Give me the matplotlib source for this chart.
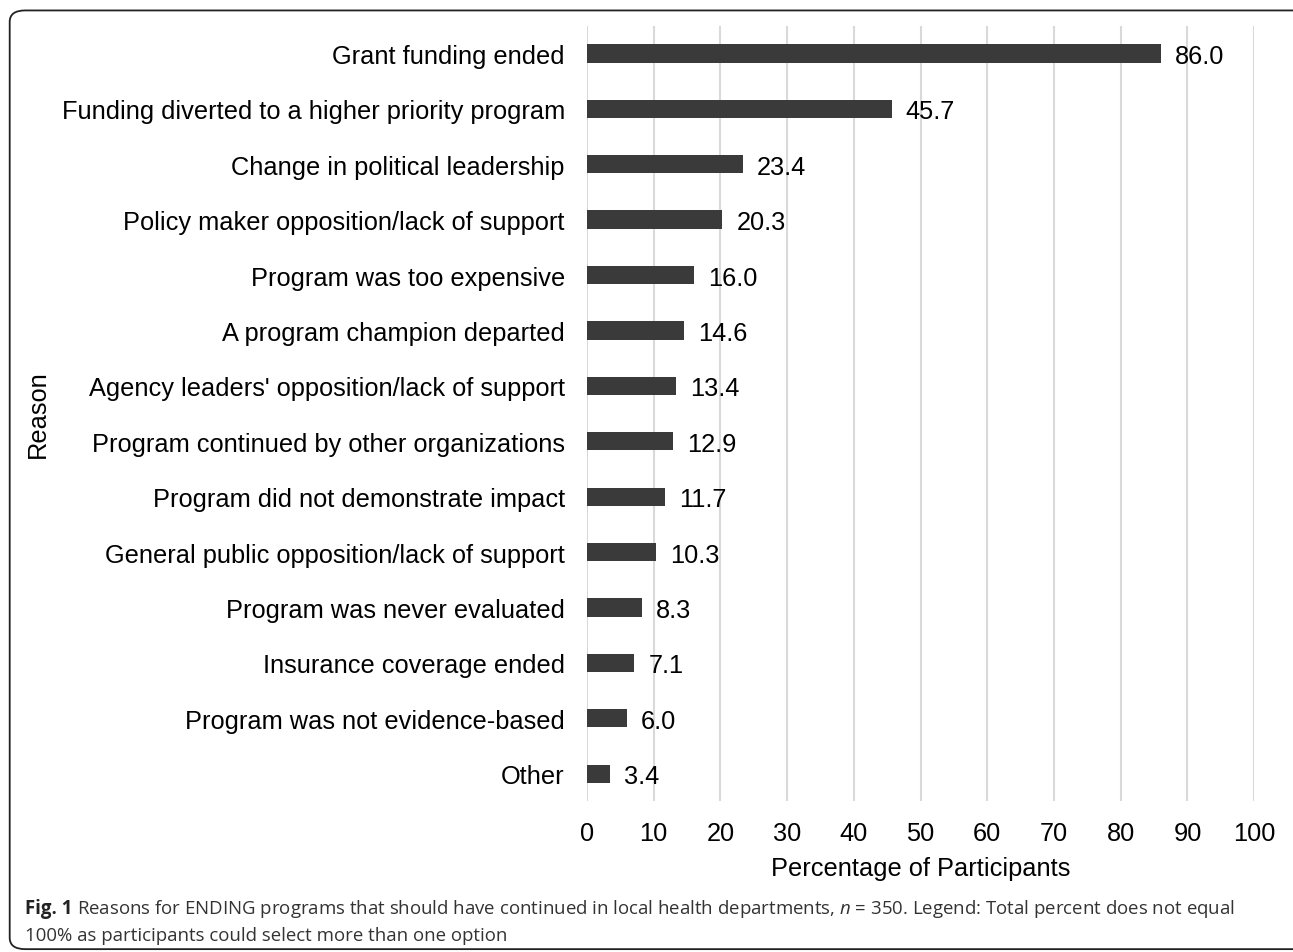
import matplotlib.pyplot as plt
from matplotlib.patches import FancyBboxPatch

# ------------ Data ------------
reasons = ["Grant funding ended",
           "Funding diverted to a higher priority program",
           "Change in political leadership",
           "Policy maker opposition/lack of support",
           "Program was too expensive",
           "A program champion departed",
           "Agency leaders' opposition/lack of support",
           "Program continued by other organizations",
           "Program did not demonstrate impact",
           "General public opposition/lack of support",
           "Program was never evaluated",
           "Insurance coverage ended",
           "Program was not evidence-based",
           "Other"]
percent = [86.0, 45.7, 23.4, 20.3, 16.0, 14.6, 13.4, 12.9, 11.7, 10.3, 8.3, 7.1, 6.0, 3.4]
xticks = list(range(0, 101, 10))

plt.rcParams['font.family'] = ['Liberation Sans', 'DejaVu Sans']
plt.rcParams['mathtext.fontset'] = 'custom'
plt.rcParams['mathtext.it'] = 'Open Sans:italic'

fs = 18.3

fig = plt.figure(figsize=(12.93, 9.53), dpi=100)
ax = fig.add_axes([0.454, 0.158, 0.516, 0.814])

ypos = list(range(len(reasons)))
ax.barh(ypos, percent, height=0.33, color='#3a3a3a', zorder=3)
for y, v in zip(ypos, percent):
    ax.annotate("%.1f" % v, (v, y), xytext=(10, 0), textcoords='offset points',
                va='center_baseline', ha='left', fontsize=fs, color='black', zorder=4)

ax.set_xlim(0, 100)
ax.set_ylim(len(reasons) - 0.5, -0.5)
ax.set_xticks(xticks)
ax.set_yticks(ypos)
ax.set_yticklabels(reasons, fontsize=fs)
ax.tick_params(axis='x', labelsize=fs, length=0, pad=14)
ax.tick_params(axis='y', length=0, pad=16)
for lab in ax.get_yticklabels():
    lab.set_verticalalignment('center_baseline')
ax.grid(axis='x', color='#d9d9d9', linewidth=1.5, zorder=0)
for s in ax.spines.values():
    s.set_visible(False)

ax.set_xlabel("Percentage of Participants", fontsize=fs, labelpad=8)
fig.text(0.029, 0.565, "Reason", rotation=90, fontsize=fs, ha='center', va='center')

# border box round the figure
box = FancyBboxPatch((0.0075, 0.003), 1.2, 0.985, boxstyle="round,pad=0,rounding_size=0.012",
                     transform=fig.transFigure, fill=False, edgecolor='#222222',
                     linewidth=1.3, figure=fig)
fig.patches.append(box)

# caption
cap_font = ['Open Sans', 'DejaVu Sans']
cap_fs = 13.4
t1 = fig.text(0.019, 0.046, "Fig. 1", fontsize=cap_fs, fontweight='bold', color='#222222',
              family=cap_font, va='center')
r = fig.canvas.get_renderer()
bb = t1.get_window_extent(renderer=r)
x2 = (bb.x1 + 5) / fig.bbox.width
fig.text(x2, 0.046,
         "Reasons for ENDING programs that should have continued in local health departments, "
         "$n$ = 350. Legend: Total percent does not equal",
         fontsize=cap_fs, color='#333333', family=cap_font, va='center')
fig.text(0.019, 0.018, "100% as participants could select more than one option",
         fontsize=cap_fs, color='#333333', family=cap_font, va='center')

fig.savefig("out.png", dpi=100)
